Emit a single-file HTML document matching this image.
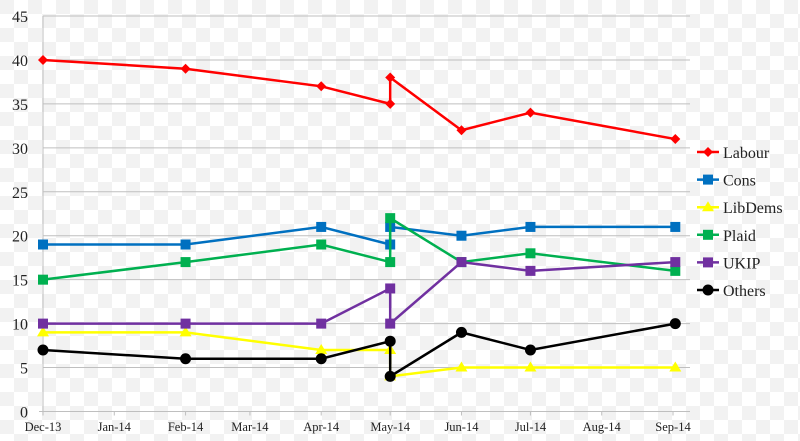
<!DOCTYPE html>
<html><head><meta charset="utf-8"><style>
html,body{margin:0;padding:0;width:800px;height:441px;overflow:hidden;background:#fff}
</style></head><body>
<svg id="chart" width="800" height="441" xmlns="http://www.w3.org/2000/svg" font-family="Liberation Serif, serif">
<defs><pattern id="chk" width="28" height="28" patternUnits="userSpaceOnUse"><rect width="28" height="28" fill="#fff"/><rect width="14" height="14" fill="#f2f2f2"/><rect x="14" y="14" width="14" height="14" fill="#f2f2f2"/></pattern></defs>
<rect width="800" height="441" fill="url(#chk)"/>
<g id="grid"></g><g id="axes"></g><g id="series"></g><g id="legend"></g>
</svg>
<script>
const monthLabels=["Dec-13","Jan-14","Feb-14","Mar-14","Apr-14","May-14","Jun-14","Jul-14","Aug-14","Sep-14"];
const monthDays=[0,31,62,90,121,151,182,212,243,274];
const yTicks=[0,5,10,15,20,25,30,35,40,45];
const pointDays=[0,62,121,151,151,182,212,275];
const labour=[40,39,37,35,38,32,34,31];
const cons=[19,19,21,19,21,20,21,21];
const libdems=[9,9,7,7,4,5,5,5];
const plaid=[15,17,19,17,22,17,18,16];
const ukip=[10,10,10,14,10,17,16,17];
const others=[7,6,6,8,4,9,7,10];
const seriesNames=["Labour","Cons","LibDems","Plaid","UKIP","Others"];
const seriesColors=["#ff0000","#0070c0","#ffff00","#00b050","#7030a0","#000000"];
const seriesMarkers=["diamond","square","triangle","square","square","circle"];
const seriesData=[labour,cons,libdems,plaid,ukip,others];
const NS="http://www.w3.org/2000/svg";
const X0=43,X1=673,Y0=411.5,Y1=16;
const xs=d=>X0+d*(X1-X0)/274;
const ys=v=>Y0-v*(Y0-Y1)/45;
function mk(tag,attrs,parent){const e=document.createElementNS(NS,tag);for(const k in attrs)e.setAttribute(k,attrs[k]);parent.appendChild(e);return e;}
const grid=document.getElementById('grid'),axes=document.getElementById('axes'),ser=document.getElementById('series'),leg=document.getElementById('legend');
yTicks.forEach(v=>{
 if(v>0){const l=mk('line',{x1:X0,x2:690,y1:ys(v),y2:ys(v),stroke:'#bfbfbf','stroke-width':1},grid);
 
 }
 const t=mk('text',{x:28,y:ys(v)+6,'text-anchor':'end','font-size':16,fill:'#222'},axes);t.textContent=v;
 
 
});
const ya=mk('line',{x1:X0,x2:X0,y1:Y1,y2:Y0,stroke:'#bfbfbf'},axes);


const xa=mk('line',{x1:X0-4,x2:690,y1:Y0,y2:Y0,stroke:'#bfbfbf'},axes);


monthDays.forEach((d,i)=>{
 mk('line',{x1:xs(d),x2:xs(d),y1:Y0,y2:Y0+4,stroke:'#bfbfbf'},axes);
 const t=mk('text',{x:xs(d),y:431,'text-anchor':'middle','font-size':12.5,fill:'#222'},axes);t.textContent=monthLabels[i];
 
 
});
function marker(type,x,y,c,p){
 if(type==='diamond')return mk('polygon',{points:`${x},${y-5} ${x+5},${y} ${x},${y+5} ${x-5},${y}`,fill:c},p);
 if(type==='square')return mk('rect',{x:x-5,y:y-5,width:10,height:10,fill:c},p);
 if(type==='triangle')return mk('polygon',{points:`${x},${y-6} ${x+6},${y+4} ${x-6},${y+4}`,fill:c},p);
 return mk('circle',{cx:x,cy:y,r:5.5,fill:c},p);
}
seriesData.forEach((arr,si)=>{
 const g=mk('g',{},ser);
 
 
 const pts=arr.map((v,i)=>xs(pointDays[i])+','+ys(v)).join(' ');
 mk('polyline',{points:pts,fill:'none',stroke:seriesColors[si],'stroke-width':2.5},g);
 arr.forEach((v,i)=>{const m=marker(seriesMarkers[si],xs(pointDays[i]),ys(v),seriesColors[si],g);
 
 });
 const ly=152+si*27.6;
 const lg=mk('g',{},leg);
 
 
 mk('line',{x1:697,x2:719,y1:ly,y2:ly,stroke:seriesColors[si],'stroke-width':2.5},lg);
 marker(seriesMarkers[si],708,ly,seriesColors[si],lg);
 const t=mk('text',{x:723,y:ly+6,'font-size':16,fill:'#222'},lg);t.textContent=seriesNames[si];
});
</script>
</body></html>
